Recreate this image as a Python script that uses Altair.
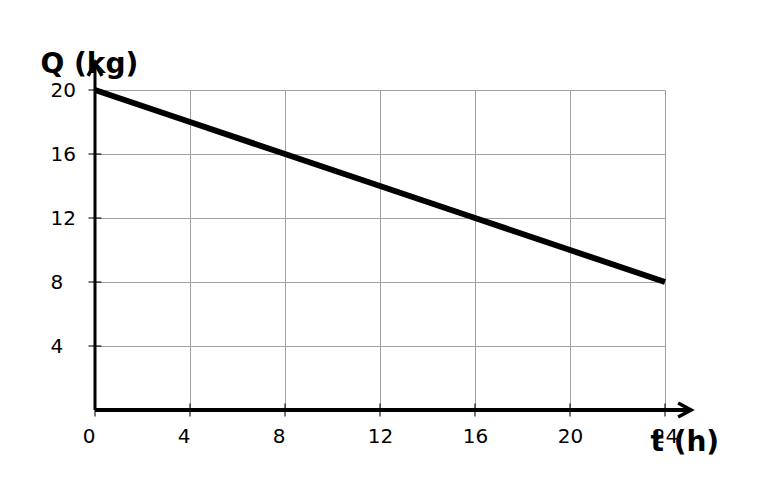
import altair as alt
import pandas as pd

# ---- data ----
t_values = [0, 4, 8, 12, 16, 20, 24]
q_values = [20, 18, 16, 14, 12, 10, 8]
x_ticks = [0, 4, 8, 12, 16, 20, 24]
y_ticks = [4, 8, 12, 16, 20]
x_title = "t (h)"
y_title = "Q (kg)"
x_axis_end = 25.1
y_axis_end = 21.7

line_df = pd.DataFrame({"t": t_values, "Q": q_values})
xt_df = pd.DataFrame({"t": x_ticks, "Q": [0] * len(x_ticks)})
yt_df = pd.DataFrame({"t": [0] * len(y_ticks), "Q": y_ticks})
xaxis_df = pd.DataFrame({"t": [0], "t2": [x_axis_end], "Q": [0]})
yaxis_df = pd.DataFrame({"t": [0], "Q": [0], "Q2": [y_axis_end]})
xarrow_df = pd.DataFrame({"t": [x_axis_end], "Q": [0]})
yarrow_df = pd.DataFrame({"t": [0], "Q": [y_axis_end]})

FONT = "DejaVu Sans"

x_axis = alt.Axis(
    values=x_ticks, grid=True, gridColor="#a0a0a0", gridWidth=1,
    domain=False, ticks=False, tickSize=0,
    labelFont=FONT, labelFontSize=20, labelColor="black",
    labelAlign={"condition": {"test": "datum.value < 10", "value": "right"}, "value": "center"},
    labelBaseline="top", labelPadding=16, labelFlush=False, labelOverlap=False,
    title=x_title, titleFont=FONT, titleFontSize=28, titleFontWeight="bold",
    titleColor="black", titleAlign="left", titleBaseline="alphabetic",
    titleX=555, titleY=40, titleAngle=0,
)
y_axis = alt.Axis(
    values=y_ticks, grid=True, gridColor="#a0a0a0", gridWidth=1,
    domain=False, ticks=False, tickSize=0,
    labelFont=FONT, labelFontSize=20, labelColor="black",
    labelAlign="left", labelBaseline="middle", labelPadding=45,
    labelFlush=False, labelOverlap=False,
    title=y_title, titleFont=FONT, titleFontSize=28, titleFontWeight="bold",
    titleColor="black", titleAlign="left", titleBaseline="alphabetic",
    titleX=-55, titleY=-18, titleAngle=0,
)

x_enc = alt.X("t:Q", scale=alt.Scale(domain=[0, 24], nice=False, zero=False), axis=x_axis)
y_enc = alt.Y("Q:Q", scale=alt.Scale(domain=[0, 20], nice=False, zero=False), axis=y_axis)

line = alt.Chart(line_df).mark_line(color="black", strokeWidth=6).encode(x=x_enc, y=y_enc)

x_line = alt.Chart(xaxis_df).mark_rule(color="black", strokeWidth=4).encode(
    x=x_enc, x2=alt.X2("t2"), y=y_enc)
y_line = alt.Chart(yaxis_df).mark_rule(color="black", strokeWidth=3).encode(
    x=x_enc, y=y_enc, y2=alt.Y2("Q2"))

x_tickmarks = alt.Chart(xt_df).mark_tick(
    color="black", orient="vertical", size=13, thickness=1.5).encode(x=x_enc, y=y_enc)
y_tickmarks = alt.Chart(yt_df).mark_tick(
    color="black", orient="horizontal", size=13, thickness=1.5).encode(x=x_enc, y=y_enc)

x_arrow = alt.Chart(xarrow_df).mark_point(
    shape="M -1.3 -0.7 L 0 0 L -1.3 0.7", filled=False, color="black",
    strokeWidth=3.5, size=400, opacity=1).encode(x=x_enc, y=y_enc)
y_arrow = alt.Chart(yarrow_df).mark_point(
    shape="M -0.7 1.3 L 0 0 L 0.7 1.3", filled=False, color="black",
    strokeWidth=3.5, size=400, opacity=1).encode(x=x_enc, y=y_enc)

chart = alt.layer(
    line, x_tickmarks, y_tickmarks, x_line, y_line, x_arrow, y_arrow
).properties(
    width=570, height=320,
    autosize=alt.AutoSizeParams(type="none"),
    padding={"left": 87, "top": 82, "right": 80, "bottom": 80},
    background="white",
).configure_view(stroke=None)

chart.save("out.html", embed_options={"renderer": "svg", "actions": False})
